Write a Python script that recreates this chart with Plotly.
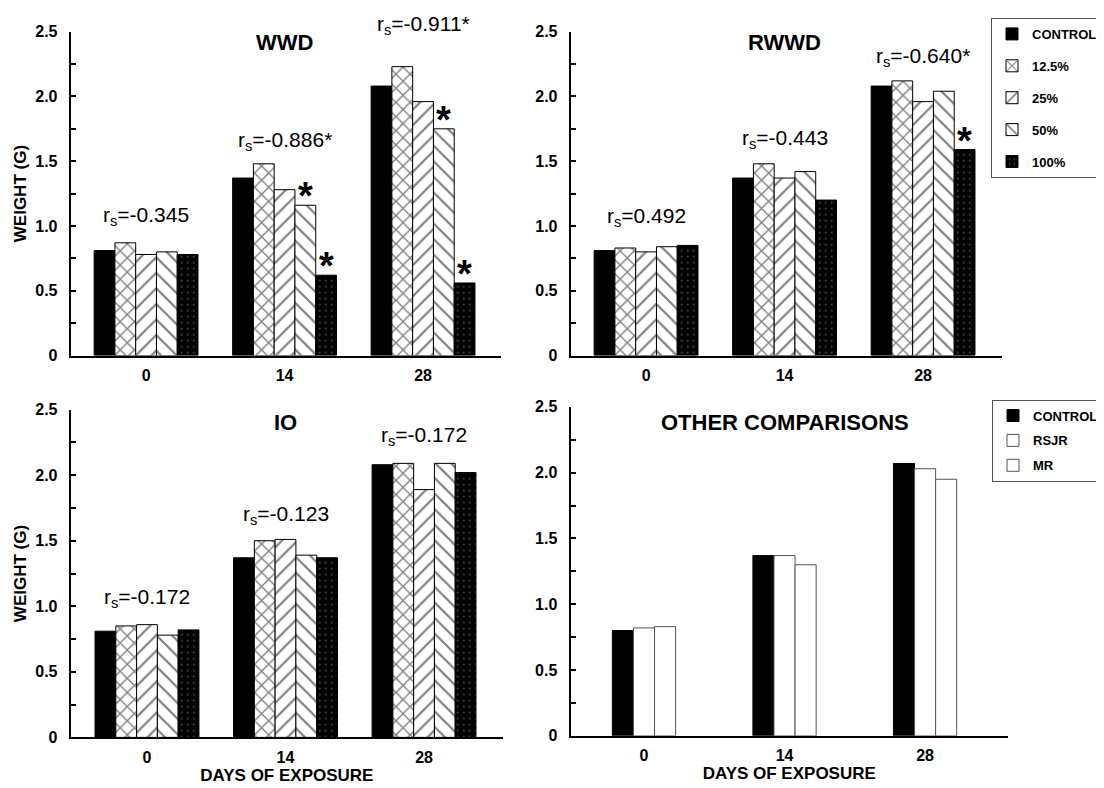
import plotly.graph_objects as go

# ---------------- data ----------------
days = [0, 14, 28]
day_labels = ["0", "14", "28"]
groups = ["CONTROL", "12.5%", "25%", "50%", "100%"]

wwd_control = [0.81, 1.37, 2.08]
wwd_12 = [0.87, 1.48, 2.23]
wwd_25 = [0.78, 1.28, 1.96]
wwd_50 = [0.80, 1.16, 1.75]
wwd_100 = [0.78, 0.62, 0.56]

rwwd_control = [0.81, 1.37, 2.08]
rwwd_12 = [0.83, 1.48, 2.12]
rwwd_25 = [0.80, 1.37, 1.96]
rwwd_50 = [0.84, 1.42, 2.04]
rwwd_100 = [0.85, 1.20, 1.59]

io_control = [0.81, 1.37, 2.08]
io_12 = [0.85, 1.50, 2.09]
io_25 = [0.86, 1.51, 1.89]
io_50 = [0.78, 1.39, 2.09]
io_100 = [0.82, 1.37, 2.02]

other_groups = ["CONTROL", "RSJR", "MR"]
other_control = [0.80, 1.37, 2.07]
other_rsjr = [0.82, 1.37, 2.03]
other_mr = [0.83, 1.30, 1.95]

wwd_rs = ["-0.345", "-0.886*", "-0.911*"]
rwwd_rs = ["0.492", "-0.443", "-0.640*"]
io_rs = ["-0.172", "-0.123", "-0.172"]

# significant bars (day, group)
wwd_sig = [(14, "50%"), (14, "100%"), (28, "50%"), (28, "100%")]
rwwd_sig = [(28, "100%")]

ytick_vals = [0, 0.5, 1.0, 1.5, 2.0, 2.5]
ytick_text = ["0", "0.5", "1.0", "1.5", "2.0", "2.5"]

# ---------------- styling ----------------
FONT = "Liberation Sans, Arial, Helvetica, sans-serif"
W = 1104
H = 788
BW = 2.1  # bar width in day units
YMAX = 2.5

styles = {
    "CONTROL": dict(color="black", line=dict(color="black", width=1)),
    "12.5%": dict(color="white", line=dict(color="black", width=1),
                  pattern=dict(shape="x", fgcolor="black", size=10, solidity=0.25)),
    "25%": dict(color="white", line=dict(color="black", width=1),
                pattern=dict(shape="/", fgcolor="black", size=11, solidity=0.2)),
    "50%": dict(color="white", line=dict(color="black", width=1),
                pattern=dict(shape="\\", fgcolor="black", size=11, solidity=0.2)),
    "100%": dict(color="black", line=dict(color="black", width=1),
                 pattern=dict(shape=".", fgcolor="#8a8a8a", size=6, solidity=0.1)),
    "RSJR": dict(color="white", line=dict(color="#555555", width=1)),
    "MR": dict(color="white", line=dict(color="#555555", width=1)),
}

fig = go.Figure()

panels = [
    dict(name="WWD", xa="x", ya="y", series=[wwd_control, wwd_12, wwd_25, wwd_50, wwd_100], legend=True),
    dict(name="RWWD", xa="x2", ya="y2", series=[rwwd_control, rwwd_12, rwwd_25, rwwd_50, rwwd_100], legend=False),
    dict(name="IO", xa="x3", ya="y3", series=[io_control, io_12, io_25, io_50, io_100], legend=False),
]

for p in panels:
    n = len(groups)
    for i, (g, vals) in enumerate(zip(groups, p["series"])):
        fig.add_trace(go.Bar(
            x=days, y=vals, name=g, xaxis=p["xa"], yaxis=p["ya"],
            width=BW, offset=-BW * n / 2 + i * BW,
            marker=styles[g], showlegend=p["legend"], legend="legend",
            legendgroup=g, hoverinfo="x+y+name",
        ))

other_series = [other_control, other_rsjr, other_mr]
for i, (g, vals) in enumerate(zip(other_groups, other_series)):
    n = len(other_groups)
    fig.add_trace(go.Bar(
        x=days, y=vals, name=g, xaxis="x4", yaxis="y4",
        width=BW, offset=-BW * n / 2 + i * BW,
        marker=styles[g], showlegend=True, legend="legend2",
        legendgroup="o_" + g,
    ))

# ---------------- axes ----------------
def px_x(a, b):
    return [a / W, b / W]

def px_y(top, bottom):
    return [1 - bottom / H, 1 - top / H]

axis_font = dict(family=FONT, size=16, color="black", weight="bold")
title_font = dict(family=FONT, size=17, color="black", weight="bold")

layout_axes = {}
geo = {
    1: dict(xd=px_x(62.7, 493), xr=[-7.62, 35.88], yd=px_y(16, 347)),
    2: dict(xd=px_x(562.7, 994), xr=[-7.62, 35.98], yd=px_y(16, 347)),
    3: dict(xd=px_x(62.7, 495), xr=[-7.71, 35.98], yd=px_y(402.3, 737.3)),
    4: dict(xd=px_x(562.5, 1000), xr=[-7.32, 36.26], yd=px_y(399.5, 735.7)),
}
for k, g in geo.items():
    sx = "" if k == 1 else str(k)
    xtitle = dict(text="DAYS OF EXPOSURE", font=title_font, standoff=4) if k in (3, 4) else None
    ytitle = dict(text="WEIGHT (G)", font=title_font, standoff=4) if k in (1, 3) else None
    layout_axes["xaxis" + sx] = dict(
        domain=g["xd"], range=g["xr"], anchor="y" + sx,
        tickvals=days, ticktext=day_labels, ticks="", showgrid=False, zeroline=False,
        showline=True, linecolor="black", linewidth=2, tickfont=axis_font,
        ticklabelstandoff=4, title=xtitle, fixedrange=True,
    )
    layout_axes["yaxis" + sx] = dict(
        domain=g["yd"], range=[0, YMAX], anchor="x" + sx,
        tickvals=ytick_vals, ticktext=ytick_text, ticks="inside", ticklen=5,
        tickwidth=2, tickcolor="black", showgrid=False, zeroline=False,
        showline=True, linecolor="black", linewidth=2, tickfont=axis_font,
        ticklabelstandoff=8, title=ytitle,
        minor=dict(dtick=0.25, tick0=0, ticks="inside", ticklen=5, tickwidth=2, tickcolor="black", showgrid=False),
    )

# ---------------- annotations ----------------
ann = []
titles = [("WWD", "x", 27), ("RWWD", "x2", 27), ("IO", "x3", 415), ("OTHER COMPARISONS", "x4", 415)]
for t, xr, ypx in titles:
    ann.append(dict(text=t, x=14, xref=xr, y=1 - ypx / H, yref="paper",
                    showarrow=False, xanchor="center", yanchor="middle",
                    font=dict(family=FONT, size=22, color="black", weight="bold")))

# label heights (in weight units) for the r_s texts
rs_pos = {
    "y": [1.057, 1.635, 2.527],
    "y2": [1.047, 1.649, 2.28],
    "y3": [1.043, 1.670, 2.278],
}
for labels, xr, yr in [(wwd_rs, "x", "y"), (rwwd_rs, "x2", "y2"), (io_rs, "x3", "y3")]:
    for d, lab, yv in zip(days, labels, rs_pos[yr]):
        ann.append(dict(text="r<sub>s</sub>=" + lab, x=d, xref=xr, y=yv / YMAX, yref=yr + " domain",
                        showarrow=False, xanchor="center", yanchor="middle", yshift=3,
                        font=dict(family=FONT, size=21, color="black")))

series_lookup = {
    "x": dict(zip(groups, panels[0]["series"])),
    "x2": dict(zip(groups, panels[1]["series"])),
}
for sig, xr, yr in [(wwd_sig, "x", "y"), (rwwd_sig, "x2", "y2")]:
    for d, g in sig:
        i = groups.index(g)
        di = days.index(d)
        val = series_lookup[xr][g][di]
        ann.append(dict(text="*", x=d - BW * 2.5 + i * BW + BW / 2, xref=xr, y=val, yref=yr,
                        showarrow=False, xanchor="center", yanchor="middle", yshift=9,
                        font=dict(family=FONT, size=38, color="black", weight="bold")))

fig.update_layout(
    width=W, height=H, margin=dict(l=0, r=0, t=0, b=0),
    paper_bgcolor="white", plot_bgcolor="white",
    barmode="overlay", font=dict(family=FONT, color="black"),
    annotations=ann,
    legend=dict(x=1095 / W, y=1 - 2 / H, xanchor="right", yanchor="top",
                bgcolor="white", bordercolor="#555555", borderwidth=1,
                font=dict(family=FONT, size=13, color="black", weight="bold"),
                traceorder="grouped", tracegroupgap=12, itemwidth=30),
    legend2=dict(x=1096 / W, y=1 - 392 / H, xanchor="right", yanchor="top",
                 bgcolor="white", bordercolor="#555555", borderwidth=1,
                 font=dict(family=FONT, size=13, color="black", weight="bold"),
                 traceorder="grouped", tracegroupgap=5, itemwidth=30),
    **layout_axes,
)

fig.write_html("out.html")
